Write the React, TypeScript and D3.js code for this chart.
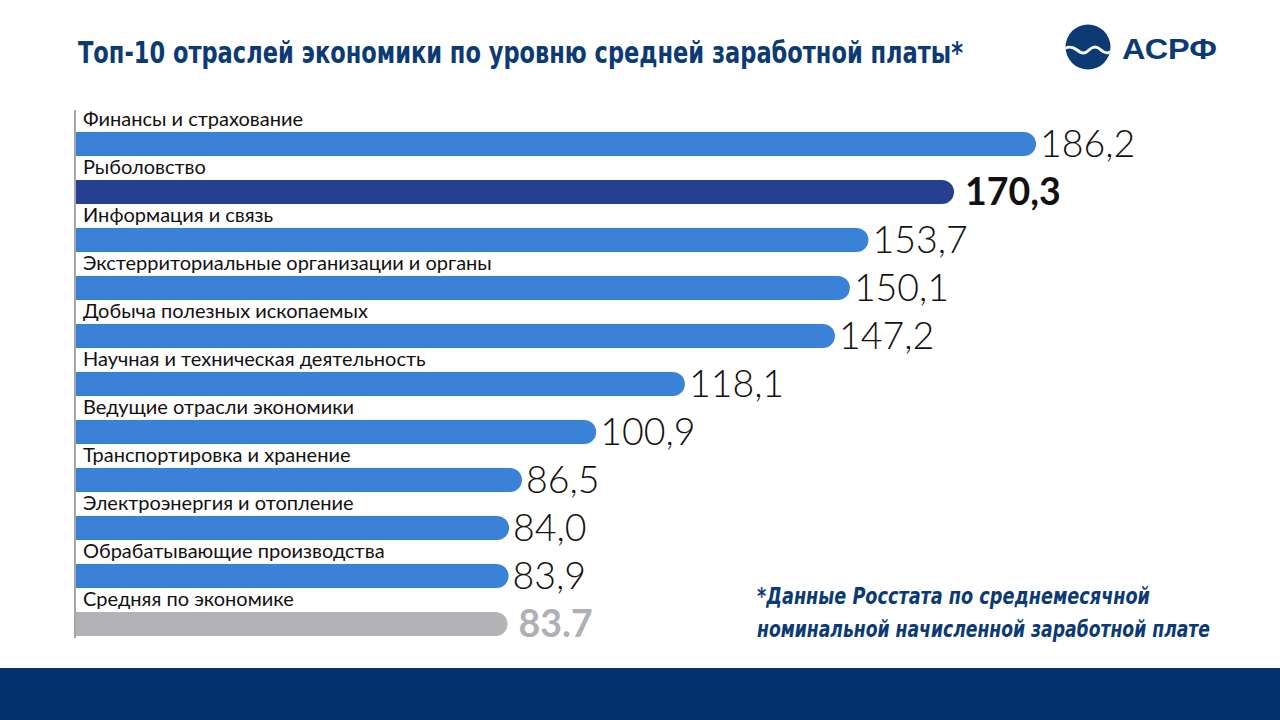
import * as d3 from "d3";

const categories = [
  "Финансы и страхование",
  "Рыболовство",
  "Информация и связь",
  "Экстерриториальные организации и органы",
  "Добыча полезных ископаемых",
  "Научная и техническая деятельность",
  "Ведущие отрасли экономики",
  "Транспортировка и хранение",
  "Электроэнергия и отопление",
  "Обрабатывающие производства",
  "Средняя по экономике",
];
const values = [186.2, 170.3, 153.7, 150.1, 147.2, 118.1, 100.9, 86.5, 84.0, 83.9, 83.7];
const valueLabels = ["186,2", "170,3", "153,7", "150,1", "147,2", "118,1", "100,9", "86,5", "84,0", "83,9", "83.7"];
// bar style per row: normal / highlight / average
const kinds = ["n", "h", "n", "n", "n", "n", "n", "n", "n", "n", "a"];

const W = 1280;
const H = 720;
const left = 76;

const barColor: Record<string, string> = { n: "#3a81d8", h: "#263f90", a: "#b3b3b7" };

function barPath(x0: number, y0: number, w: number, h: number) {
  const r = h / 2;
  return `M${x0},${y0}h${w - r}a${r},${r} 0 0 1 0,${h}h${-(w - r)}Z`;
}

export default function App() {
  const x = d3.scaleLinear().domain([0, 186.2]).range([0, 960]);
  const y = d3.scaleBand<string>().domain(categories).range([108, 108 + 48 * categories.length]);
  const barH = 24;

  return (
    <div style={{ position: "fixed", left: 0, top: 0, width: W, height: H, background: "#fff" }}>
      <svg width={W} height={H} style={{ display: "block" }}>
        <rect width={W} height={H} fill="#fff" />
        {/* title */}
        <text
          x={78}
          y={63}
          fontFamily="'Liberation Sans Narrow', 'DejaVu Sans Condensed', sans-serif"
          fontWeight="bold"
          fontSize={30}
          fill="#0b3a74"
          textLength={885}
          lengthAdjust="spacingAndGlyphs"
        >
          Топ-10 отраслей экономики по уровню средней заработной платы*
        </text>

        {/* logo */}
        <defs>
          <clipPath id="logoClip">
            <circle cx={1088} cy={47} r={22.5} />
          </clipPath>
        </defs>
        <circle cx={1088} cy={47} r={22.5} fill="#0b3a74" />
        <path
          clipPath="url(#logoClip)"
          d="M1062,50 C1068,46 1072,46 1077,50 C1082,54 1085,54 1089,50 C1093,46 1097,46 1101,50 C1105,54 1109,54 1115,49"
          fill="none"
          stroke="#fff"
          strokeWidth={3}
        />
        <text
          x={1122}
          y={59}
          fontFamily="'Liberation Sans', Arial, sans-serif"
          fontWeight="bold"
          fontSize={29}
          fill="#0b3a74"
          textLength={95}
          lengthAdjust="spacingAndGlyphs"
        >
          АСРФ
        </text>

        {/* axis line */}
        <line x1={left - 1} x2={left - 1} y1={110} y2={638} stroke="#a6a6a6" strokeWidth={2} />

        {categories.map((c, i) => {
          const y0 = (y(c) ?? 0) + 24;
          const w = x(values[i]);
          const k = kinds[i];
          return (
            <g key={c}>
              <text x={83} y={(y(c) ?? 0) + 18} fontFamily="Lato, sans-serif" fontSize={20} fill="#111">
                {c}
              </text>
              <path d={barPath(left, y0, w, barH)} fill={barColor[k]} />
              <text
                x={left + w + (k === "n" ? 4 : 11)}
                y={y0 + barH / 2 + 13}
                fontFamily="Lato, sans-serif"
                fontSize={37.5}
                fontWeight={k === "n" ? 300 : "bold"}
                fill={k === "a" ? "#b0b0b4" : "#111"}
              >
                {valueLabels[i]}
              </text>
            </g>
          );
        })}

        {/* footnote */}
        <g
          fontFamily="'Liberation Sans Narrow', 'DejaVu Sans Condensed', sans-serif"
          fontStyle="italic"
          fontWeight="bold"
          fontSize={23}
          fill="#0b3a74"
        >
          <text x={757} y={604} textLength={393} lengthAdjust="spacingAndGlyphs">
            *Данные Росстата по среднемесячной
          </text>
          <text x={757} y={637} textLength={453} lengthAdjust="spacingAndGlyphs">
            номинальной начисленной заработной плате
          </text>
        </g>

        {/* bottom band */}
        <rect x={0} y={668} width={W} height={H - 668} fill="#03326f" />
      </svg>
    </div>
  );
}
